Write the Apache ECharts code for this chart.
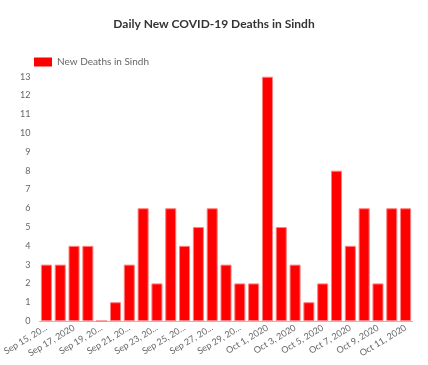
<!DOCTYPE html>
<html><head><meta charset="utf-8">
<script src="https://cdn.jsdelivr.net/npm/echarts@6/dist/echarts.min.js"></script>
<style>html,body{margin:0;padding:0;background:#fff}#c{width:428px;height:365px}</style>
</head><body><div id="c"></div>
<script>
var categories = ["Sep 15, 2020","Sep 16, 2020","Sep 17, 2020","Sep 18, 2020","Sep 19, 2020","Sep 20, 2020","Sep 21, 2020","Sep 22, 2020","Sep 23, 2020","Sep 24, 2020","Sep 25, 2020","Sep 26, 2020","Sep 27, 2020","Sep 28, 2020","Sep 29, 2020","Sep 30, 2020","Oct 1, 2020","Oct 2, 2020","Oct 3, 2020","Oct 4, 2020","Oct 5, 2020","Oct 6, 2020","Oct 7, 2020","Oct 8, 2020","Oct 9, 2020","Oct 10, 2020","Oct 11, 2020"];
var deaths = [3,3,4,4,0,1,3,6,2,6,4,5,6,3,2,2,13,5,3,1,2,8,4,6,2,6,6];
var tickLabels = ["Sep 15, 20...","","Sep 17, 2020","","Sep 19, 20...","","Sep 21, 20...","","Sep 23, 20...","","Sep 25, 20...","","Sep 27, 20...","","Sep 29, 20...","","Oct 1, 2020","","Oct 3, 2020","","Oct 5, 2020","","Oct 7, 2020","","Oct 9, 2020","","Oct 11, 2020"];
var yTicks = [0,1,2,3,4,5,6,7,8,9,10,11,12,13];
var seriesName = "New Deaths in Sindh";
var titleText = "Daily New COVID-19 Deaths in Sindh";

var chart = echarts.init(document.getElementById('c'), null, {renderer:'canvas'});
var font = 'Lato, "Noto Sans", sans-serif';
chart.setOption({
  animation:false,
  textStyle:{fontFamily:font},
  title:{text:titleText,left:'center',top:13,textStyle:{fontFamily:font,fontSize:12,fontWeight:'bold',color:'#333'}},
  legend:{data:[seriesName],left:29,top:52,itemWidth:18,itemHeight:9,itemGap:4,icon:'rect',
    itemStyle:{color:'#ff0000',borderWidth:0},
    textStyle:{fontFamily:font,fontSize:10,color:'#666'}},
  grid:{left:34.7,right:15.5,top:76.7,bottom:44,containLabel:false},
  xAxis:{type:'category',data:categories,
    axisLine:{show:true,lineStyle:{color:'#bbb',width:1}},
    axisTick:{show:false},
    axisLabel:{interval:0,rotate:31,fontSize:9,color:'#666',margin:6,fontFamily:font,
      formatter:function(v,i){return tickLabels[i];}}},
  yAxis:{type:'value',min:yTicks[0],max:yTicks[yTicks.length-1],interval:1,
    axisLine:{show:false},axisTick:{show:false},splitLine:{show:false},
    axisLabel:{fontSize:9,color:'#666',margin:9,fontFamily:font}},
  series:[{name:seriesName,type:'bar',data:deaths,barCategoryGap:'20%',
    itemStyle:{color:'#ff0000',borderColor:'#ff8080',borderWidth:1}}]
});
</script></body></html>
